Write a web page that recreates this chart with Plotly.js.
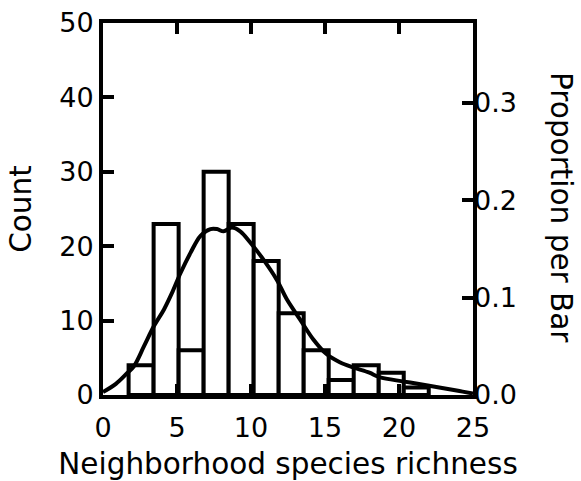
<!DOCTYPE html>
<html>
<head>
<meta charset="utf-8">
<script src="https://cdn.plot.ly/plotly-3.0.1.min.js"></script>
<style>
  html, body { margin: 0; padding: 0; background: #ffffff; }
  #chart { width: 581px; height: 481px; }
</style>
</head>
<body>
<div id="chart"></div>
<script>
// Histogram of neighborhood species richness (12 equal-width bins)
const binStart = 1.73;
const binSize = 1.69;
const counts = [4, 23, 6, 30, 23, 18, 11, 6, 2, 4, 3, 1];

// Smoothed density curve, expressed in counts
const curveX = [0, 0.87, 1.66, 2.1, 2.78, 3.45, 4.12, 4.68, 5.24, 5.91, 6.59, 7.26, 7.7, 8.15,
                8.7, 9.27, 9.95, 10.84, 11.74, 12.41, 13.3, 14.2, 15.1, 16.0, 16.9, 18.0,
                18.68, 20.36, 22.04, 23.7, 24.3, 25];
const curveY = [0.4, 1.5, 3.0, 3.9, 6.6, 9.3, 11.5, 13.8, 16.4, 19.1, 21.4, 22.3, 22.3, 22.0,
                22.5, 22.0, 20.5, 18.2, 15.5, 12.9, 10.2, 7.5, 5.5, 4.4, 3.7, 3.0,
                2.4, 1.8, 1.25, 0.67, 0.45, 0.2];

// Axis ticks
const xTicks = [0, 5, 10, 15, 20, 25];
const countTicks = [0, 10, 20, 30, 40, 50];
const propTicks = [0.0, 0.1, 0.2, 0.3];

const total = counts.reduce((a, b) => a + b, 0);
const centers = counts.map((_, i) => binStart + binSize * (i + 0.5));
const proportions = counts.map(c => c / total);

const FONT = 'DejaVu Sans, Liberation Sans, Arial, sans-serif';
const INK = '#000000';

const bars = {
  type: 'bar',
  x: centers,
  y: counts,
  width: counts.map(() => binSize),
  marker: { color: '#ffffff', line: { color: INK, width: 4 } },
  hoverinfo: 'skip',
  showlegend: false
};

const curve = {
  type: 'scatter',
  mode: 'lines',
  x: curveX,
  y: curveY,
  line: { color: INK, width: 4, shape: 'spline', smoothing: 1 },
  hoverinfo: 'skip',
  showlegend: false
};

// Proportion-per-bar values carried on the right-hand axis
const propTrace = {
  type: 'scatter',
  mode: 'markers',
  x: centers,
  y: proportions,
  yaxis: 'y2',
  marker: { opacity: 0, size: 1 },
  hoverinfo: 'skip',
  showlegend: false
};

const tickFont = { family: FONT, size: 27, color: INK };
const titleFont = { family: FONT, size: 29.5, color: INK };

const layout = {
  width: 581,
  height: 481,
  margin: { l: 103, r: 108, t: 23, b: 86 },
  paper_bgcolor: '#ffffff',
  plot_bgcolor: '#ffffff',
  bargap: 0,
  xaxis: {
    range: [0, 25],
    tickvals: xTicks,
    ticktext: xTicks.map(String),
    ticks: 'inside',
    ticklen: 11,
    tickwidth: 4,
    tickcolor: INK,
    ticklabelstandoff: 6,
    showline: true,
    linewidth: 4,
    linecolor: INK,
    mirror: 'ticks',
    showgrid: false,
    zeroline: false,
    tickfont: tickFont,
    title: { text: 'Neighborhood species richness', font: titleFont, standoff: 14 }
  },
  yaxis: {
    range: [0, 50],
    tickvals: countTicks,
    ticktext: countTicks.map(String),
    ticks: 'inside',
    ticklen: 11,
    tickwidth: 4,
    tickcolor: INK,
    showline: true,
    linewidth: 4,
    linecolor: INK,
    mirror: true,
    showgrid: false,
    zeroline: false,
    tickfont: tickFont,
    title: { text: 'Count', font: titleFont, standoff: 20 }
  },
  yaxis2: {
    overlaying: 'y',
    side: 'right',
    range: [0, 50 / total],
    tickvals: propTicks,
    ticktext: propTicks.map(v => v.toFixed(1)),
    ticks: 'inside',
    ticklen: 11,
    tickwidth: 4,
    tickcolor: INK,
    showline: false,
    showgrid: false,
    zeroline: false,
    tickfont: tickFont
  },
  annotations: [{
    text: 'Proportion per Bar',
    xref: 'paper', yref: 'paper',
    x: 1.238, y: 0.505,
    xanchor: 'center', yanchor: 'middle',
    textangle: 90,
    showarrow: false,
    font: titleFont
  }]
};

Plotly.newPlot('chart', [bars, curve, propTrace], layout, { staticPlot: true, displayModeBar: false });
</script>
</body>
</html>
